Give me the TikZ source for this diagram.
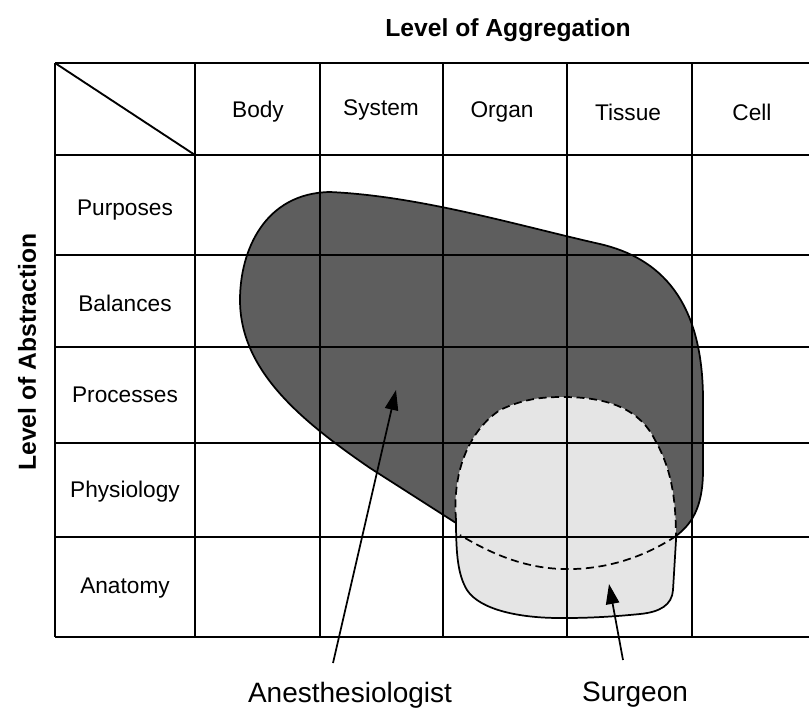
\documentclass[tikz,border=0pt]{standalone}
\usepackage{fontspec}
\setmainfont{Liberation Sans}
\usetikzlibrary{arrows.meta}

\definecolor{anescol}{gray}{0.37}
\definecolor{surgcol}{gray}{0.90}

\begin{document}
\begin{tikzpicture}[x=0.75pt,y=-0.75pt,>={Triangle[length=15pt,width=10pt]},
  cell/.style={font=\fontsize{17}{20}\selectfont},
  head/.style={font=\bfseries\fontsize{18.5}{22}\selectfont},
  who/.style={font=\fontsize{21}{25}\selectfont},
  gridline/.style={line width=1.4pt},
  outline/.style={line width=1.3pt},
  border/.style={outline,dash pattern=on 6pt off 3.5pt}]
  \useasboundingbox[fill=white] (0,0) rectangle (809,708);

  % anesthesiologist region
  \filldraw[anescol,draw=black,outline]
    (330,192) .. controls (420,196) and (520,226) .. (600,244)
    .. controls (660,258) and (703,300) .. (703,400) -- (703,470)
    .. controls (703,510) and (690,525) .. (676,536)
    .. controls (640,560) and (600,570) .. (563,569)
    .. controls (520,568) and (480,548) .. (456,523) -- (370,468)
    .. controls (300,420) and (240,370) .. (240,300)
    .. controls (240,250) and (265,193) .. (330,192) -- cycle;

  % surgeon region
  \fill[surgcol] (456,520) .. controls (452,470) and (470,430) .. (500,410)
    .. controls (525,398) and (545,397) .. (563,397)
    .. controls (610,397) and (640,410) .. (655,440)
    .. controls (672,470) and (676,500) .. (676,540) -- (673,590)
    .. controls (672,605) and (660,612) .. (640,614)
    .. controls (600,618) and (575,618) .. (560,618)
    .. controls (520,618) and (480,610) .. (467,590)
    .. controls (458,575) and (456,555) .. (456,520) -- cycle;
  \draw[border] (456,520) .. controls (452,470) and (470,430) .. (500,410)
    .. controls (525,398) and (545,397) .. (563,397)
    .. controls (610,397) and (640,410) .. (655,440)
    .. controls (672,470) and (676,500) .. (676,540);
  \draw[outline] (676,540) -- (673,590)
    .. controls (672,605) and (660,612) .. (640,614)
    .. controls (600,618) and (575,618) .. (560,618)
    .. controls (520,618) and (480,610) .. (467,590)
    .. controls (458,575) and (456,555) .. (456,520);
  \draw[border] (676,536) .. controls (640,560) and (600,570) .. (563,569)
    .. controls (520,568) and (485,550) .. (460,535);

  % table
  \draw[gridline] (55,63) -- (809,63); \draw[gridline] (55,155) -- (809,155);
  \draw[gridline] (55,255) -- (809,255); \draw[gridline] (55,347) -- (809,347);
  \draw[gridline] (55,443) -- (809,443); \draw[gridline] (55,537) -- (809,537);
  \draw[gridline] (55,637) -- (809,637);
  \draw[gridline] (55,63) -- (55,637); \draw[gridline] (195,63) -- (195,637);
  \draw[gridline] (320,63) -- (320,637); \draw[gridline] (443,63) -- (443,637);
  \draw[gridline] (567,63) -- (567,637); \draw[gridline] (692,63) -- (692,637);
  \draw[gridline] (55,63) -- (195,155);

  \node[head] (aggr) at (508,30) {Level of Aggregation};
  \node[head,rotate=90] (abstr) at (27,352) {Level of Abstraction};

  \node[cell] (body) at (258,112) {Body};
  \node[cell] (system) at (381,110) {System};
  \node[cell] (organ) at (502,112) {Organ};
  \node[cell] (tissue) at (628,112) {Tissue};
  \node[cell] (cell) at (752,112) {Cell};

  \node[cell] (purposes) at (125,210) {Purposes};
  \node[cell] (balances) at (125,303) {Balances};
  \node[cell] (processes) at (125,395) {Processes};
  \node[cell] (physiology) at (125,492) {Physiology};
  \node[cell] (anatomy) at (125,588) {Anatomy};

  % who works where
  \node[who] (anes) at (350,695) {Anesthesiologist};
  \node[who] (surg) at (635,695) {Surgeon};
  \coordinate (anestail) at (333,663); \coordinate (anestip) at (396,390);
  \coordinate (surgtail) at (623,660); \coordinate (surgtip) at (609,584);
  \draw[->,outline] (anestail) -- (anestip);
  \draw[->,outline] (surgtail) -- (surgtip);
\end{tikzpicture}
\end{document}
